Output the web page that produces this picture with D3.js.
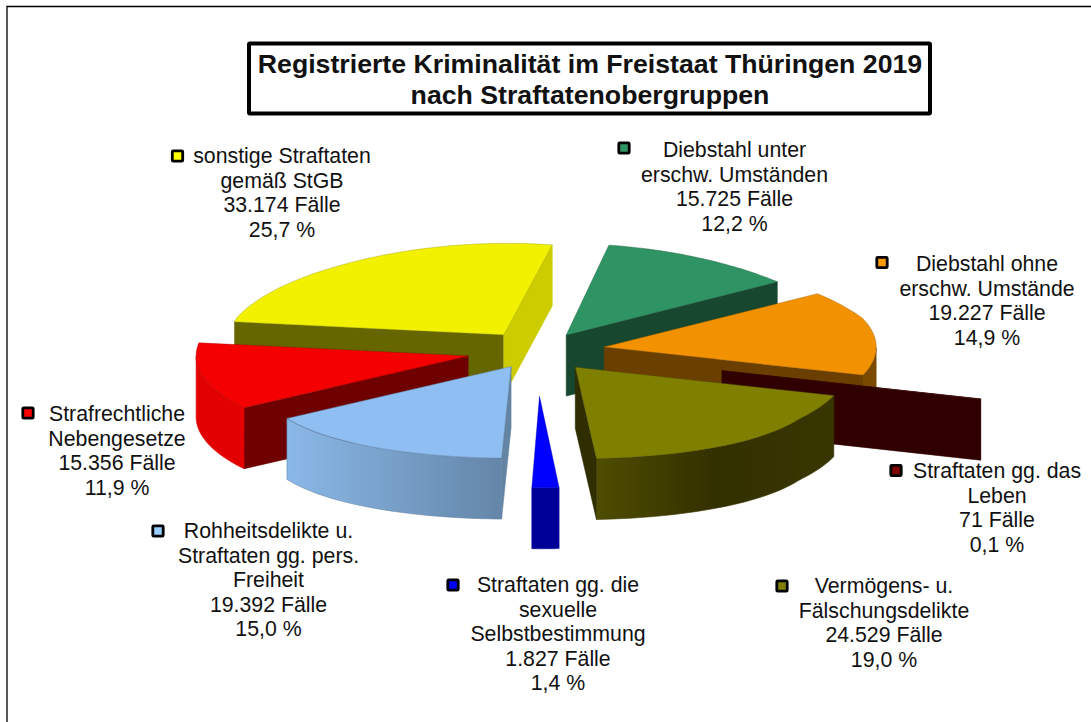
<!DOCTYPE html>
<html>
<head>
<meta charset="utf-8">
<script src="https://cdn.jsdelivr.net/npm/d3@7"></script>
<style>
  body { margin: 0; background: #fff; }
  text { font-family: "Liberation Sans", Arial, sans-serif; fill: #111; }
</style>
</head>
<body>
<div class="chart"></div>
<script>
// Chart data, in pie order (clockwise)
const categories = [
  ['Diebstahl unter', 'erschw. Umständen'],
  ['Diebstahl ohne', 'erschw. Umstände'],
  ['Straftaten gg. das', 'Leben'],
  ['Vermögens- u.', 'Fälschungsdelikte'],
  ['Straftaten gg. die', 'sexuelle', 'Selbstbestimmung'],
  ['Rohheitsdelikte u.', 'Straftaten gg. pers.', 'Freiheit'],
  ['Strafrechtliche', 'Nebengesetze'],
  ['sonstige Straftaten', 'gemäß StGB'],
];
const caseCounts = [15725, 19227, 71, 24529, 1827, 19392, 15356, 33174];
const shares = [12.2, 14.9, 0.1, 19.0, 1.4, 15.0, 11.9, 25.7];
const titleLines = [
  'Registrierte Kriminalität im Freistaat Thüringen 2019',
  'nach Straftatenobergruppen',
];

// Colours per slice: top, wall, outer side (gradient stops when there are more than one)
const sliceColors = [
  { top: '#2f9463', wall: '#17472f', side: ['#17472f'], key: '#2f9463' },
  { top: '#f39200', wall: '#6a3f00', side: ['#7a4a00'], key: '#ff9900' },
  { top: '#4a0000', wall: '#300000', side: ['#300000'], key: '#800000' },
  { top: '#808000', wall: '#2e2e00', side: ['#4f4d00', '#333000', '#383600'], key: '#808000' },
  { top: '#0000ff', wall: '#000099', side: ['#000099'], key: '#0000ff' },
  { top: '#8fbef2', wall: '#6484a4', side: ['#8ab8e8', '#6486a8'], key: '#99ccff' },
  { top: '#f50000', wall: '#6e0000', side: ['#e30000'], key: '#ff0000' },
  { top: '#f2f200', wall: '#666600', endWall: '#cccc00', side: ['#cccc00'], key: '#ffff00' },
];
// How far each slice is pulled out of the pie, in radii
const explode = [0.2, 0.25, 0.715, 0.23, 0.5, 0.2, 0.26, 0.21];
// Back slices are painted first
const paintOrder = [7, 0, 1, 2, 3, 6, 5, 4];
// Label placement: text centre, first baseline, legend key
const labelPos = [
  { x: 734.5, y: 157, kx: 624, ky: 148 },
  { x: 987, y: 271, kx: 882, ky: 262.5 },
  { x: 997, y: 478, kx: 896, ky: 470.5 },
  { x: 884, y: 593, kx: 782, ky: 586 },
  { x: 558, y: 592, kx: 453, ky: 585 },
  { x: 268.5, y: 538, kx: 158, ky: 531 },
  { x: 117, y: 421, kx: 28, ky: 413 },
  { x: 282, y: 163, kx: 177.5, ky: 156 },
];

const svgWidth = 1091;
const svgHeight = 722;
const depth = 61;
const radian = Math.PI / 180;

const svg = d3
  .select('.chart')
  .append('svg')
  .attr('width', svgWidth)
  .attr('height', svgHeight)
  .style('display', 'block');

// Outer frame, only top and left are inside the picture
svg
  .append('path')
  .attr('d', `M7,${svgHeight}V6.5H${svgWidth}`)
  .attr('fill', 'none')
  .attr('stroke', '#000')
  .attr('stroke-width', 1.3);

// Ground plane to screen: y is flat, x shrinks with distance
const centerX = 537;
const centerY = 351;
const xScale = d3.scaleLinear().domain([-1, 1]).range([centerX - 272, centerX + 272]);
const yScale = d3.scaleLinear().domain([-1, 1]).range([centerY + 91, centerY - 92]);
const perspective = d3
  .scaleLinear()
  .domain([-1.5, -0.75, 0.35, 0.75, 1.2])
  .range([1.13, 1, 1, 0.96, 0.9]);

function project(gx, gz) {
  return [centerX + (xScale(gx) - centerX) * perspective(gz), yScale(gz)];
}

// Rotation of the pie: first slice starts just right of straight back
const pie = d3.pie().sort(null);
const startRad = 10.6 * radian;
const slices = pie
  .startAngle(startRad)
  .endAngle(startRad + 2 * Math.PI)(caseCounts);

const line = d3.line();
const defs = svg.append('defs');
const pieGroup = svg.append('g');

function drop(points) {
  return points.map((p) => [p[0], p[1] + depth]).reverse();
}

function fillFor(colors, i) {
  if (colors.length === 1) return colors[0];
  const id = `side-${i}`;
  const gradient = defs.append('linearGradient').attr('id', id);
  colors.forEach((c, k) => {
    gradient
      .append('stop')
      .attr('offset', k / (colors.length - 1))
      .attr('stop-color', c);
  });
  return `url(#${id})`;
}

paintOrder.forEach((i) => {
  const slice = slices[i];
  const colors = sliceColors[i];
  const mid = (slice.startAngle + slice.endAngle) / 2;
  const ox = explode[i] * Math.sin(mid);
  const oz = explode[i] * Math.cos(mid);
  const point = (a) => project(ox + Math.sin(a), oz + Math.cos(a));

  const angles = d3
    .range(0, 41)
    .map((k) => slice.startAngle + ((slice.endAngle - slice.startAngle) * k) / 40);
  const rim = angles.map(point);
  const apex = project(ox, oz);
  const top = [apex, ...rim];
  const group = pieGroup.append('g');

  const centroid = [d3.mean(top, (p) => p[0]), d3.mean(top, (p) => p[1])];

  // A radial wall shows only if the top face lies above its edge
  function wall(corner, color) {
    const slope = (corner[1] - apex[1]) / (corner[0] - apex[0]);
    if (centroid[1] >= apex[1] + slope * (centroid[0] - apex[0])) return;
    const face = [apex, corner];
    group
      .append('path')
      .attr('d', line([...face, ...drop(face)]) + 'Z')
      .attr('fill', color)
      .attr('stroke', color)
      .attr('stroke-width', 0.6);
  }
  wall(rim[0], colors.wall);
  wall(rim[rim.length - 1], colors.endWall || colors.wall);

  // Outer side, the part of the rim that faces the viewer
  const front = angles.filter((a) => Math.cos(a) < 0).map(point);
  if (front.length > 1) {
    const sideFill = fillFor(colors.side, i);
    group
      .append('path')
      .attr('d', line([...front, ...drop(front)]) + 'Z')
      .attr('fill', sideFill)
      .attr('stroke', colors.side[colors.side.length - 1])
      .attr('stroke-width', 0.6);
  }

  group
    .append('path')
    .attr('d', line(top) + 'Z')
    .attr('fill', colors.top)
    .attr('stroke', d3.color(colors.top).darker(1.2))
    .attr('stroke-opacity', 0.6)
    .attr('stroke-width', 0.7);
});

// Title box
svg
  .append('rect')
  .attr('x', 249)
  .attr('y', 43.5)
  .attr('width', 681)
  .attr('height', 70)
  .attr('rx', 1)
  .attr('fill', '#fff')
  .attr('stroke', '#000')
  .attr('stroke-width', 4);

svg
  .selectAll('.title')
  .data(titleLines)
  .enter()
  .append('text')
  .attr('class', 'title')
  .attr('x', 590)
  .attr('y', (d, i) => 73 + i * 30.5)
  .attr('text-anchor', 'middle')
  .attr('font-size', 26.7)
  .attr('font-weight', 'bold')
  .text((d) => d);

// Data labels with German number format
const german = d3.formatLocale({
  decimal: ',',
  thousands: '.',
  grouping: [3],
  currency: ['', ''],
});
const formatCount = german.format(',d');
const formatShare = german.format('.1f');

categories.forEach((lines, i) => {
  const pos = labelPos[i];
  const allLines = [
    ...lines,
    `${formatCount(caseCounts[i])} Fälle`,
    `${formatShare(shares[i])} %`,
  ];
  const label = svg.append('g');
  label
    .append('rect')
    .attr('x', pos.kx - 5.2)
    .attr('y', pos.ky - 5.2)
    .attr('width', 10.4)
    .attr('height', 10.4)
    .attr('rx', 1)
    .attr('fill', sliceColors[i].key)
    .attr('stroke', '#000')
    .attr('stroke-width', 2.8);
  label
    .selectAll('text')
    .data(allLines)
    .enter()
    .append('text')
    .attr('x', pos.x)
    .attr('y', (d, k) => pos.y + k * 24.5)
    .attr('text-anchor', 'middle')
    .attr('font-size', 21.3)
    .text((d) => d);
});
</script>
</body>
</html>
